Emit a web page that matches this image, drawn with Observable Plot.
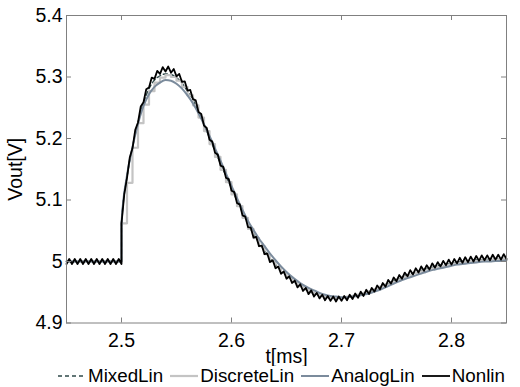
<!DOCTYPE html>
<html><head><meta charset="utf-8">
<script src="https://cdn.jsdelivr.net/npm/d3@7"></script>
<script src="https://cdn.jsdelivr.net/npm/@observablehq/plot@0.6"></script>
<style>
body{margin:0;background:#fff;font-family:"Liberation Sans",Arial,sans-serif;}
#wrap{position:relative;width:520px;height:387px;overflow:hidden;}
#legend{position:absolute;left:58px;top:366px;height:20px;display:flex;align-items:center;font-size:18.8px;color:#000;white-space:nowrap;}
.item{display:flex;align-items:center;margin-right:7px}
.item svg{margin-right:2px}
</style></head><body><div id="wrap"><div id="legend"></div></div>
<script>
// time grid
const tStart = 2.45, tJump = 2.5;
const dtFine = 0.0025, dtCoarse = 0.005;
const baseline = 5.0;
const xTicks = [2.5, 2.6, 2.7, 2.8];
const yTicks = [4.9, 5, 5.1, 5.2, 5.3, 5.4];
const seriesNames = ["MixedLin", "DiscreteLin", "AnalogLin", "Nonlin"];

// Nonlin before the step (t = 2.45 .. 2.5, every 0.0025 ms)
const nonlinPre = [4.996,5.004,4.996,5.004,4.996,5.004,4.996,5.004,4.996,5.004,
  4.996,5.004,4.996,5.004,4.996,5.004,4.996,5.004,4.996,5.004,4.996];
// Nonlin after the step (t = 2.5 .. 2.85, every 0.0025 ms)
const nonlinPost = [5.062,5.109,5.136,5.169,5.184,5.214,5.226,5.252,5.259,5.280,
  5.283,5.299,5.297,5.310,5.305,5.316,5.309,5.317,5.307,5.313,
  5.301,5.305,5.292,5.293,5.278,5.279,5.264,5.262,5.243,5.240,
  5.221,5.217,5.198,5.195,5.177,5.174,5.156,5.154,5.136,5.134,
  5.115,5.113,5.095,5.093,5.075,5.073,5.056,5.055,5.039,5.040,
  5.025,5.026,5.012,5.013,4.999,5.002,4.989,4.992,4.980,4.984,
  4.972,4.976,4.965,4.969,4.958,4.963,4.952,4.957,4.947,4.953,
  4.943,4.949,4.940,4.946,4.937,4.944,4.936,4.943,4.935,4.943,
  4.936,4.944,4.937,4.946,4.939,4.948,4.941,4.951,4.944,4.954,
  4.947,4.957,4.951,4.961,4.955,4.965,4.959,4.970,4.964,4.974,
  4.968,4.978,4.972,4.982,4.976,4.986,4.979,4.989,4.982,4.992,
  4.985,4.994,4.987,4.997,4.990,4.999,4.992,5.001,4.994,5.003,
  4.995,5.004,4.997,5.006,4.998,5.007,4.999,5.008,5.000,5.009,
  5.001,5.010,5.002,5.010,5.002,5.011,5.003,5.011,5.003,5.012,5.004];
// After the step (t = 2.5 .. 2.85, every 0.005 ms)
const mixedPost = [5.062,5.138,5.186,5.226,5.258,5.281,5.295,5.302,5.305,5.304,
  5.299,5.290,5.277,5.263,5.244,5.223,5.201,5.180,5.159,5.139,
  5.119,5.099,5.080,5.061,5.045,5.031,5.018,5.005,4.995,4.986,
  4.978,4.970,4.963,4.957,4.952,4.948,4.945,4.942,4.941,4.940,
  4.941,4.942,4.943,4.945,4.948,4.951,4.954,4.958,4.962,4.966,
  4.970,4.974,4.978,4.981,4.984,4.987,4.989,4.992,4.994,4.996,
  4.997,4.999,5.000,5.001,5.002,5.003,5.003,5.004,5.004,5.005,5.005];
const discretePost = [5.062,5.128,5.185,5.225,5.255,5.277,5.291,5.299,
  5.303,5.300,5.294,5.284,5.270,5.254,5.234,5.212,5.191,5.170,
  5.149,5.129,5.109,5.090,5.071,5.053,5.038,5.025,5.012,5.000,
  4.991,4.982,4.974,4.967,4.960,4.955,4.950,4.947,4.944,4.942,
  4.941,4.941,4.941,
  4.943,4.944,4.946,4.949,4.952,4.955,4.959,4.963,4.967,4.971,
  4.975,4.978,4.981,4.984,4.987,4.989,4.991,4.993,4.995,4.997,
  4.998,4.999,5.000,5.001,5.002,5.002,5.003,5.003,5.004,5.004];
const analogPost = [5.062,5.140,5.186,5.224,5.253,5.272,5.284,5.291,5.295,5.294,
  5.289,5.281,5.270,5.257,5.241,5.223,5.204,5.184,5.164,5.143,
  5.123,5.103,5.084,5.066,5.051,5.037,5.025,5.013,5.002,4.992,
  4.983,4.975,4.968,4.962,4.957,4.953,4.949,4.946,4.944,4.943,
  4.942,4.942,4.943,4.944,4.946,4.948,4.951,4.954,4.958,4.962,
  4.966,4.970,4.973,4.976,4.979,4.982,4.985,4.987,4.989,4.991,
  4.993,4.995,4.996,4.997,4.998,4.999,5.000,5.000,5.001,5.001,5.002];

const colors = {MixedLin:"#2f4a4a", DiscreteLin:"#c4c4c4", AnalogLin:"#7b8b9c", Nonlin:"#000000"};

const r4 = v => Math.round(v * 1e4) / 1e4;
function build(pre, preStep, post, postStep) {
  const out = [];
  pre.forEach((v, i) => out.push({t: r4(tStart + i * preStep), v}));
  post.forEach((v, i) => out.push({t: r4(tJump + i * postStep), v}));
  return out;
}
const flatPre = [baseline, baseline];
const nonlin = build(nonlinPre, dtFine, nonlinPost, dtFine);
const mixed = build(flatPre, tJump - tStart, mixedPost, dtCoarse);
const discrete = build(flatPre, tJump - tStart, discretePost, dtCoarse);
const analog = build(flatPre, tJump - tStart, analogPost, dtCoarse);

const font = '"Liberation Sans",Arial,sans-serif';
const W = 520, H = 366, mT = 15, mB = 43.5, mL = 66, mR = 14;
const innerW = W - mL - mR, innerH = H - mT - mB, tickLen = 5;
const fs = 19.5;
const chart = Plot.plot({
  width: W, height: H,
  marginTop: mT, marginBottom: mB, marginLeft: mL, marginRight: mR,
  style: {fontFamily: font, fontSize: fs + "px", background: "#fff", color: "#000"},
  x: {domain: [2.45, 2.85]},
  y: {domain: [4.9, 5.4]},
  marks: [
    Plot.line(mixed, {x: "t", y: "v", stroke: colors.MixedLin, strokeWidth: 1.4, strokeDasharray: "4,3", curve: "monotone-x"}),
    Plot.line(discrete, {x: "t", y: "v", stroke: colors.DiscreteLin, strokeWidth: 2.2, curve: "step-after"}),
    Plot.line(analog, {x: "t", y: "v", stroke: colors.AnalogLin, strokeWidth: 2, curve: "monotone-x"}),
    Plot.line(nonlin, {x: "t", y: "v", stroke: colors.Nonlin, strokeWidth: 1.8}),
    // inward ticks on all four sides
    Plot.ruleX(xTicks, {x: d => d, stroke: "#808080", insetTop: innerH - tickLen}),
    Plot.ruleX(xTicks, {x: d => d, stroke: "#808080", insetBottom: innerH - tickLen}),
    Plot.ruleY(yTicks, {y: d => d, stroke: "#808080", insetRight: innerW - tickLen}),
    Plot.ruleY(yTicks, {y: d => d, stroke: "#808080", insetLeft: innerW - tickLen}),
    Plot.frame({stroke: "#808080", strokeWidth: 1}),
    Plot.axisX(xTicks, {anchor: "bottom", tickSize: 0, tickPadding: 10, fill: "#000", fontSize: fs,
      tickFormat: d => String(d), label: "t[ms]", labelAnchor: "center", labelOffset: 40, labelArrow: "none"}),
    Plot.axisY(yTicks, {anchor: "left", tickSize: 0, tickPadding: 4, fill: "#000", fontSize: fs,
      tickFormat: d => String(d), label: "Vout[V]", labelAnchor: "center", labelOffset: 58, labelArrow: "none"})
  ]
});
const wrap = document.getElementById("wrap");
wrap.insertBefore(chart, wrap.firstChild);

const legend = document.getElementById("legend");
seriesNames.forEach(name => {
  const item = document.createElement("div");
  item.className = "item";
  const dash = name === "MixedLin" ? ' stroke-dasharray="4,3"' : "";
  const w = name === "DiscreteLin" ? 2.2 : name === "Nonlin" ? 1.8 : name === "AnalogLin" ? 2 : 1.4;
  item.innerHTML = `<svg width="28" height="10"><line x1="0" y1="5" x2="28" y2="5" stroke="${colors[name]}" stroke-width="${w}"${dash}/></svg><span>${name}</span>`;
  legend.appendChild(item);
});
</script></body></html>
